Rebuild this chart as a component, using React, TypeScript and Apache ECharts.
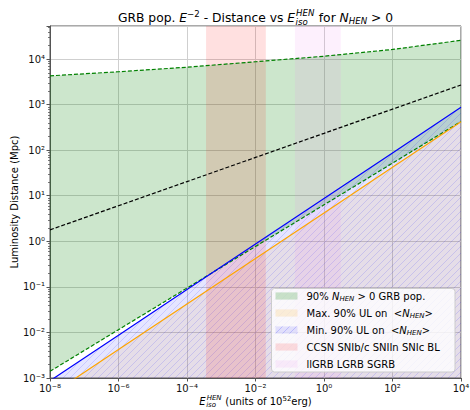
import React, { useEffect, useRef } from 'react';
import * as echarts from 'echarts';

// ---------- data ----------
// isotropic HEN energy, units of 1e52 erg
const energies = [1e-8, 1e-6, 1e-4, 1e-2, 1, 1e2, 1e4];
// 90% N_HEN > 0 GRB population: upper and lower luminosity distance (Mpc)
const grbPopUpper = [4270, 5250, 6610, 8710, 11500, 16200, 25700];
const grbPopLower = [1.4e-3, 1.15e-2, 9.4e-2, 0.77, 6.3, 51.9, 425];
// black dashed reference curve (Mpc)
const referenceCurve = [1.78, 6.03, 20.4, 69.2, 234, 794, 2690];
// minimum / maximum 90% UL on <N_HEN> (Mpc)
const minUL = [8.7e-4, 8.7e-3, 8.7e-2, 0.87, 8.7, 87, 870];
const maxUL = [4.2e-4, 4.2e-3, 4.2e-2, 0.42, 4.2, 42, 420];
// energy bands
const ccsnBand = [3.6e-4, 2.0e-2];
const grbBand = [0.142, 3.1];
// axis ranges
const xRange = [1e-8, 1e4];
const yRange = [1e-3, 5.3e4];

const legendLabels = [
  '90% N_HEN > 0 GRB pop.',
  'Max. 90% UL on <N_HEN>',
  'Min. 90% UL on <N_HEN>',
  'CCSN SNIb/c SNIIn SNIc BL',
  'llGRB LGRB SGRB',
];

// ---------- helpers ----------
const FF = '"DejaVu Sans", sans-serif';
const lg = Math.log10;
const SUP: Record<string, string> = {
  '-': '\u207B', '0': '\u2070', '1': '\u00B9', '2': '\u00B2', '3': '\u00B3',
  '4': '\u2074', '5': '\u2075', '6': '\u2076', '7': '\u2077', '8': '\u2078', '9': '\u2079',
};
const powLabel = (v: number) => {
  const r = Math.round(v);
  if (Math.abs(v - r) > 1e-6) return '';
  return '10' + String(r).split('').map((c) => SUP[c] || c).join('');
};

let mctx: CanvasRenderingContext2D | null = null;
const measure = (t: string, size: number, italic: boolean) => {
  if (!mctx) mctx = document.createElement('canvas').getContext('2d');
  mctx!.font = `${italic ? 'italic ' : ''}${size}px ${FF}`;
  return mctx!.measureText(t).width;
};

type Seg = { t?: string; k?: 'n' | 'i' | 'sup' | 'isub'; stack?: [string, string] };

// lay out a line of text with math-like sub/superscripts
function mathText(segs: Seg[], size: number, x: number, yMid: number, align: 'left' | 'center', z = 50) {
  const small = size * 0.7;
  const items: { t: string; size: number; italic: boolean; dx: number; dy: number }[] = [];
  let cx = 0;
  for (const s of segs) {
    if (s.stack) {
      const w = Math.max(measure(s.stack[0], small, true), measure(s.stack[1], small, true));
      items.push({ t: s.stack[0], size: small, italic: true, dx: cx + 1, dy: -size * 0.37 });
      items.push({ t: s.stack[1], size: small, italic: true, dx: cx + 0.5, dy: size * 0.37 });
      cx += w + 1.5;
    } else {
      const t = s.t || '';
      let sz = size, it = false, dy = 0;
      if (s.k === 'i') it = true;
      else if (s.k === 'sup') { sz = small; dy = -size * 0.28; }
      else if (s.k === 'isub') { sz = small; it = true; dy = size * 0.28; }
      items.push({ t, size: sz, italic: it, dx: cx, dy });
      cx += measure(t, sz, it);
    }
  }
  const x0 = align === 'center' ? x - cx / 2 : x;
  return items.map((it) => ({
    type: 'text',
    x: x0 + it.dx,
    y: yMid + it.dy,
    z,
    silent: true,
    style: {
      text: it.t,
      fontSize: it.size,
      fontFamily: FF,
      fontStyle: it.italic ? 'italic' : 'normal',
      fill: '#000',
      align: 'left',
      verticalAlign: 'middle',
    },
  }));
}

function hatch(bg: string, line: string, s = 7) {
  const c = document.createElement('canvas');
  c.width = s;
  c.height = s;
  const g = c.getContext('2d')!;
  g.fillStyle = bg;
  g.fillRect(0, 0, s, s);
  g.strokeStyle = line;
  g.lineWidth = 1;
  g.beginPath();
  g.moveTo(-1, s + 1); g.lineTo(s + 1, -1);
  g.moveTo(-1, 1); g.lineTo(1, -1);
  g.moveTo(s - 1, s + 1); g.lineTo(s + 1, s - 1);
  g.stroke();
  return { image: c, repeat: 'repeat', imageWidth: s, imageHeight: s };
}

const pts = (ys: number[]) => energies.map((e, i) => [lg(e), lg(ys[i])]);

function polySeries(name: string, poly: () => number[][], fill: any, z: number) {
  return {
    type: 'custom',
    name,
    coordinateSystem: 'cartesian2d',
    clip: true,
    silent: true,
    z,
    data: poly(),
    renderItem: (params: any, api: any) => {
      if (params.dataIndex !== 0) return null;
      return {
        type: 'polygon',
        shape: { points: poly().map((p) => api.coord(p)) },
        style: { fill },
      };
    },
  };
}

function lineSeries(name: string, ys: number[], color: string, dashed: boolean) {
  return {
    type: 'line',
    name,
    data: pts(ys),
    showSymbol: false,
    symbol: 'none',
    silent: true,
    clip: true,
    z: 10,
    lineStyle: { color, width: 1.2, type: dashed ? [4, 2] : 'solid' },
  };
}

export default function App() {
  const ref = useRef<HTMLDivElement>(null);
  useEffect(() => {
    const chart = echarts.init(ref.current!, undefined, { renderer: 'svg', width: 470, height: 410 });

    const greenFill = 'rgba(0,128,0,0.2)';
    const orangeFill = 'rgba(255,165,0,0.1)';
    const blueFill = hatch('rgba(0,0,255,0.1)', 'rgba(0,0,255,0.13)');
    const blueLegend = hatch('rgba(0,0,255,0.1)', 'rgba(0,0,255,0.15)');
    const pinkFill = 'rgba(255,0,0,0.12)';
    const violetFill = 'rgba(238,130,238,0.12)';

    const yMinL = lg(yRange[0]);
    const yMaxL = lg(yRange[1]);
    const xMinL = lg(xRange[0]);
    const xMaxL = lg(xRange[1]);

    const bandPoly = (b: number[]) => () => [
      [lg(b[0]), yMinL], [lg(b[1]), yMinL], [lg(b[1]), yMaxL], [lg(b[0]), yMaxL],
    ];
    const underPoly = (ys: number[]) => () => [...pts(ys), [xMaxL, yMinL - 1], [xMinL, yMinL - 1]];

    const axisColor = '#555';

    // minor ticks of the logarithmic y axis (2..9 x 10^k)
    const yMinor: number[][] = [];
    for (let k = Math.floor(yMinL); k <= Math.floor(yMaxL); k++) {
      for (let m = 2; m <= 9; m++) {
        const v = lg(m) + k;
        if (v > yMinL && v < yMaxL) yMinor.push([xMinL, v]);
      }
    }

    // legend
    const legendFills = [greenFill, 'rgba(255,165,0,0.14)', blueLegend, pinkFill, violetFill];
    const legendSegs: Seg[][] = [
      [{ t: '90% ' }, { t: 'N', k: 'i' }, { t: 'HEN', k: 'isub' }, { t: ' > 0 GRB pop.' }],
      [{ t: 'Max. 90% UL on  <' }, { t: 'N', k: 'i' }, { t: 'HEN', k: 'isub' }, { t: '>' }],
      [{ t: 'Min. 90% UL on  <' }, { t: 'N', k: 'i' }, { t: 'HEN', k: 'isub' }, { t: '>' }],
      [{ t: legendLabels[3] }],
      [{ t: legendLabels[4] }],
    ];
    const legendEls: any[] = [
      {
        type: 'rect',
        z: 100,
        silent: true,
        shape: { x: 271.5, y: 288.5, width: 183.5, height: 83.5, r: 3 },
        style: { fill: 'rgba(255,255,255,0.8)', stroke: '#cccccc', lineWidth: 1 },
      },
    ];
    legendSegs.forEach((segs, i) => {
      const cy = 296 + 17 * i;
      legendEls.push({
        type: 'rect',
        z: 101,
        silent: true,
        shape: { x: 275.5, y: cy - 3.6, width: 22, height: 7.2 },
        style: { fill: legendFills[i] },
      });
      legendEls.push(...mathText(segs, 10, 306.5, cy, 'left', 102));
    });

    const titleEls = mathText(
      [
        { t: 'GRB pop. ' }, { t: 'E', k: 'i' }, { t: '\u22122', k: 'sup' },
        { t: ' - Distance vs ' }, { t: 'E', k: 'i' }, { stack: ['HEN', 'iso'] },
        { t: ' for ' }, { t: 'N', k: 'i' }, { t: 'HEN', k: 'isub' }, { t: ' > 0' },
      ],
      12.3, 255.5, 17.5, 'center',
    );
    const xNameEls = mathText(
      [{ t: 'E', k: 'i' }, { stack: ['HEN', 'iso'] }, { t: ' (units of 10' }, { t: '52', k: 'sup' }, { t: 'erg)' }],
      10, 255.5, 401.5, 'center',
    );
    const yNameEl = {
      type: 'text',
      x: 14.5,
      y: 202,
      rotation: Math.PI / 2,
      silent: true,
      style: {
        text: 'Luminosity Distance (Mpc)',
        fontSize: 10,
        fontFamily: FF,
        fill: '#000',
        align: 'center',
        verticalAlign: 'middle',
      },
    };

    const axisCommon = {
      type: 'value',
      axisLine: { show: true, onZero: false, lineStyle: { color: axisColor, width: 1 } },
      axisTick: { show: true, inside: false, length: 3.5, lineStyle: { color: axisColor, width: 1 } },
      axisLabel: { formatter: powLabel, margin: 5, fontSize: 10, fontFamily: FF, color: '#111' },
      splitLine: { show: true, lineStyle: { color: '#cfcfcf', width: 1 } },
    };

    chart.setOption({
      animation: false,
      backgroundColor: '#ffffff',
      grid: {
        left: 50, right: 9, top: 26, bottom: 32,
        show: true, borderColor: axisColor, borderWidth: 1, backgroundColor: 'transparent',
        containLabel: false, outerBoundsMode: 'none',
      },
      xAxis: { ...axisCommon, min: xMinL, max: xMaxL, interval: 2 },
      yAxis: { ...axisCommon, min: yMinL, max: yMaxL, interval: 1 },
      series: [
        polySeries('90% N_HEN > 0 GRB pop.', () => [...pts(grbPopLower), ...pts(grbPopUpper).reverse()], greenFill, 1),
        polySeries('Max. 90% UL on <N_HEN>', underPoly(maxUL), orangeFill, 2),
        polySeries('Min. 90% UL on <N_HEN>', underPoly(minUL), blueFill, 3),
        polySeries('CCSN SNIb/c SNIIn SNIc BL', bandPoly(ccsnBand), pinkFill, 4),
        polySeries('llGRB LGRB SGRB', bandPoly(grbBand), violetFill, 4),
        lineSeries('GRB pop. upper', grbPopUpper, 'green', true),
        lineSeries('GRB pop. lower', grbPopLower, 'green', true),
        lineSeries('reference', referenceCurve, '#000', true),
        lineSeries('Min UL', minUL, 'blue', false),
        lineSeries('Max UL', maxUL, 'orange', false),
        {
          type: 'custom',
          name: 'y minor ticks',
          coordinateSystem: 'cartesian2d',
          clip: false,
          silent: true,
          z: 20,
          data: yMinor,
          renderItem: (_p: any, api: any) => {
            const c = api.coord([api.value(0), api.value(1)]);
            const y = Math.round(c[1]) + 0.5;
            return {
              type: 'line',
              shape: { x1: c[0] - 2, y1: y, x2: c[0], y2: y },
              style: { stroke: axisColor, lineWidth: 0.8 },
            };
          },
        },
      ],
      graphic: { elements: [...titleEls, ...xNameEls, yNameEl, ...legendEls] },
    });
    return () => chart.dispose();
  }, []);
  return (
    <div
      ref={ref}
      style={{ position: 'fixed', left: 0, top: 0, width: 470, height: 410, background: '#fff' }}
    />
  );
}
